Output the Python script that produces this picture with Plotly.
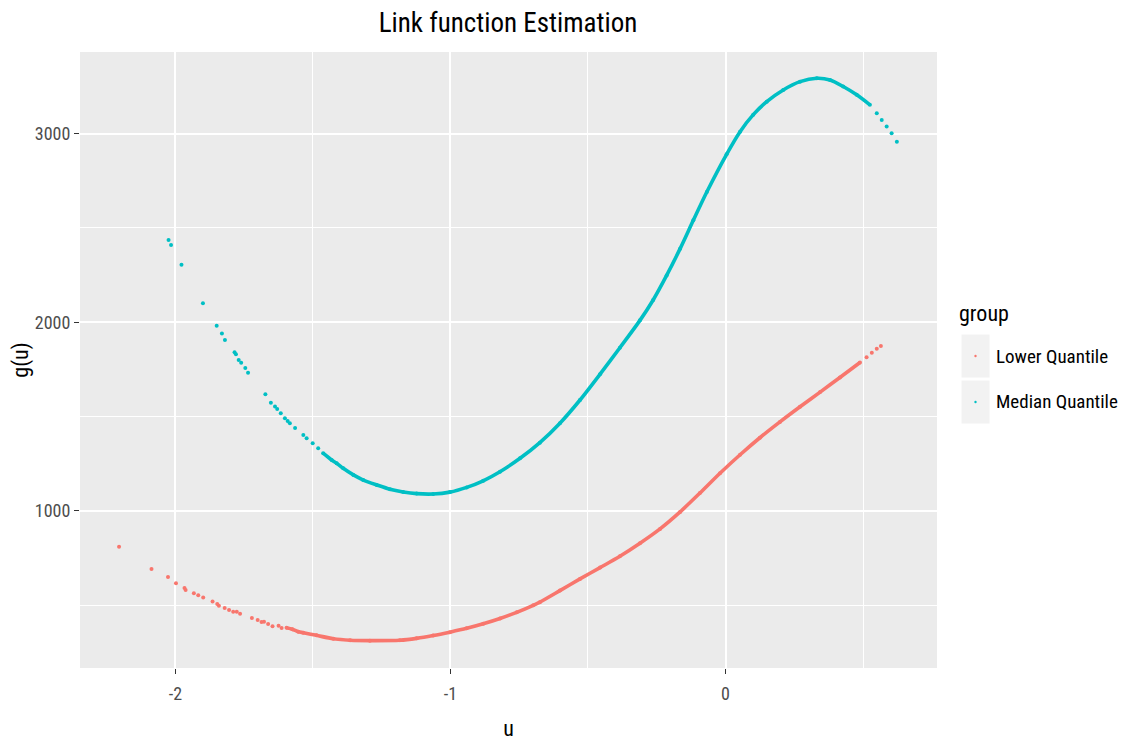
import plotly.graph_objects as go

# ---------------- data ----------------
median_u = [-2.025, -2.016, -1.978, -1.900, -1.850, -1.831, -1.820, -1.785, -1.780, -1.770,
            -1.761, -1.746, -1.736, -1.673, -1.653, -1.638, -1.630, -1.617, -1.602, -1.592,
            -1.584, -1.565, -1.535, -1.523, -1.501, -1.481, -1.463, -1.432, -1.414, -1.390,
            -1.353, -1.317, -1.268, -1.220, -1.172, -1.123, -1.063, -1.002, -0.941, -0.881,
            -0.820, -0.747, -0.675, -0.602, -0.529, -0.456, -0.384, -0.311, -0.263, -0.214,
            -0.165, -0.117, -0.068, 0.004, 0.053, 0.101, 0.150, 0.210, 0.271, 0.332,
            0.380, 0.428, 0.477, 0.525, 0.550, 0.568, 0.586, 0.604, 0.623]
median_g = [2436, 2410, 2305, 2101, 1982, 1940, 1906, 1841, 1831, 1800,
            1786, 1758, 1733, 1619, 1574, 1553, 1541, 1518, 1491, 1477,
            1465, 1440, 1403, 1385, 1359, 1332, 1306, 1270, 1253, 1226,
            1191, 1164, 1138, 1115, 1101, 1092, 1090, 1100, 1125, 1160,
            1208, 1279, 1362, 1465, 1588, 1725, 1865, 2010, 2118, 2248,
            2390, 2540, 2690, 2890, 3010, 3100, 3169, 3231, 3275, 3293,
            3284, 3249, 3205, 3152, 3107, 3072, 3037, 3002, 2957]

lower_u = [-2.205, -2.087, -2.027, -1.998, -1.967, -1.963, -1.933, -1.917, -1.899, -1.865,
           -1.848, -1.842, -1.821, -1.805, -1.790, -1.777, -1.765, -1.722, -1.701, -1.687,
           -1.678, -1.663, -1.647, -1.625, -1.614, -1.596, -1.575, -1.553, -1.535, -1.487,
           -1.426, -1.365, -1.293, -1.184, -1.123, -1.063, -1.002, -0.941, -0.881, -0.820,
           -0.759, -0.699, -0.675, -0.602, -0.529, -0.456, -0.384, -0.311, -0.238, -0.165,
           -0.093, -0.020, 0.053, 0.125, 0.198, 0.271, 0.344, 0.416, 0.489, 0.513,
           0.532, 0.550, 0.565]
lower_g = [811, 693, 650, 617, 592, 581, 564, 553, 541, 521,
           507, 498, 486, 475, 466, 466, 456, 433, 422, 412,
           413, 401, 389, 392, 380, 381, 373, 360, 355, 341,
           323, 315, 313, 315, 325, 340, 358, 378, 402, 430,
           463, 500, 517, 578, 640, 700, 760, 829, 905, 995,
           1095, 1200, 1298, 1388, 1472, 1552, 1630, 1707, 1787, 1815,
           1838, 1860, 1874]

groups = ["Lower Quantile", "Median Quantile"]
x_ticks = [-2, -1, 0]
y_ticks = [1000, 2000, 3000]

# ---------------- styling ----------------
RED = "#F8766D"
TEAL = "#00BFC4"
FONT = "Liberation Sans Narrow, Roboto Condensed, Liberation Sans, Arial, sans-serif"

OFF = 8                      # page body margin in the browser
W, H = 1126 - OFF, 742 - OFF
# panel edges, in reference-image pixels
PL, PR, PT, PB = 80, 937, 52, 668
L, R, T, B = PL - OFF, PR - OFF, PT - OFF, PB - OFF


def xp(px):
    return (px - PL) / (PR - PL)


def yp(py):
    return (PB - py) / (PB - PT)


def dense(u, g, lo, hi):
    pairs = [(a, b) for a, b in zip(u, g) if lo <= a <= hi]
    return [p[0] for p in pairs], [p[1] for p in pairs]


fig = go.Figure()

for name, u, g, col, lo, hi in [
    (groups[0], lower_u, lower_g, RED, -1.60, 0.50),
    (groups[1], median_u, median_g, TEAL, -1.47, 0.53),
]:
    du, dg = dense(u, g, lo, hi)
    fig.add_trace(go.Scatter(x=du, y=dg, mode="lines", name=name,
                             line=dict(color=col, width=3.6, shape="spline", smoothing=0.8),
                             showlegend=False, hoverinfo="skip"))
    fig.add_trace(go.Scatter(x=u, y=g, mode="markers", name=name,
                             marker=dict(color=col, size=4, line=dict(width=0)),
                             showlegend=False))

axis_common = dict(
    showgrid=True, gridcolor="white", gridwidth=1.6,
    zeroline=False, showline=False,
    ticks="outside", ticklen=5, tickwidth=1, tickcolor="#333333",
    tickfont=dict(family=FONT, size=18, color="#4D4D4D"),
    minor=dict(showgrid=True, gridcolor="white", gridwidth=0.8),
)

fig.update_xaxes(range=[-2.347, 0.769], tickvals=x_ticks, ticktext=[str(v) for v in x_ticks],
                 minor_tickvals=[-1.5, -0.5, 0.5], ticklabelstandoff=4,
                 title=dict(text="u", font=dict(family=FONT, size=22, color="black"), standoff=18),
                 **axis_common)
fig.update_yaxes(range=[168, 3432], tickvals=y_ticks, ticktext=[str(v) for v in y_ticks],
                 minor_tickvals=[500, 1500, 2500],
                 title=dict(text="g(u)", font=dict(family=FONT, size=22, color="black"), standoff=10),
                 **axis_common)

shapes = []
annotations = []
# legend title
annotations.append(dict(text="group", xref="paper", yref="paper", x=xp(957), y=yp(313),
                        xanchor="left", yanchor="middle", showarrow=False,
                        font=dict(family=FONT, size=22, color="black")))
for i, (name, col) in enumerate(zip(groups, [RED, TEAL])):
    top = 334 + i * 46
    bot = top + 44
    cy = (top + bot) / 2
    shapes.append(dict(type="rect", xref="paper", yref="paper",
                       x0=xp(961), x1=xp(990), y0=yp(bot), y1=yp(top),
                       fillcolor="#F2F2F2", line=dict(color="white", width=1), layer="below"))
    shapes.append(dict(type="circle", xref="paper", yref="paper",
                       x0=xp(974.3), x1=xp(976.7), y0=yp(cy + 1.2), y1=yp(cy - 1.2),
                       fillcolor=col, line=dict(width=0)))
    annotations.append(dict(text=name, xref="paper", yref="paper", x=xp(994), y=yp(cy),
                            xanchor="left", yanchor="middle", showarrow=False,
                            font=dict(family=FONT, size=19, color="black")))

fig.update_layout(
    width=W, height=H,
    margin=dict(l=L, r=W - R, t=T, b=H - B, pad=0, autoexpand=False),
    paper_bgcolor="white", plot_bgcolor="#EBEBEB",
    title=dict(text="Link function Estimation", x=xp(508), xref="paper", xanchor="center",
               y=1 - (23 - OFF) / H, yref="container", yanchor="middle",
               font=dict(family=FONT, size=27, color="black")),
    shapes=shapes, annotations=annotations,
    showlegend=False,
)

fig.write_html("out.html")
